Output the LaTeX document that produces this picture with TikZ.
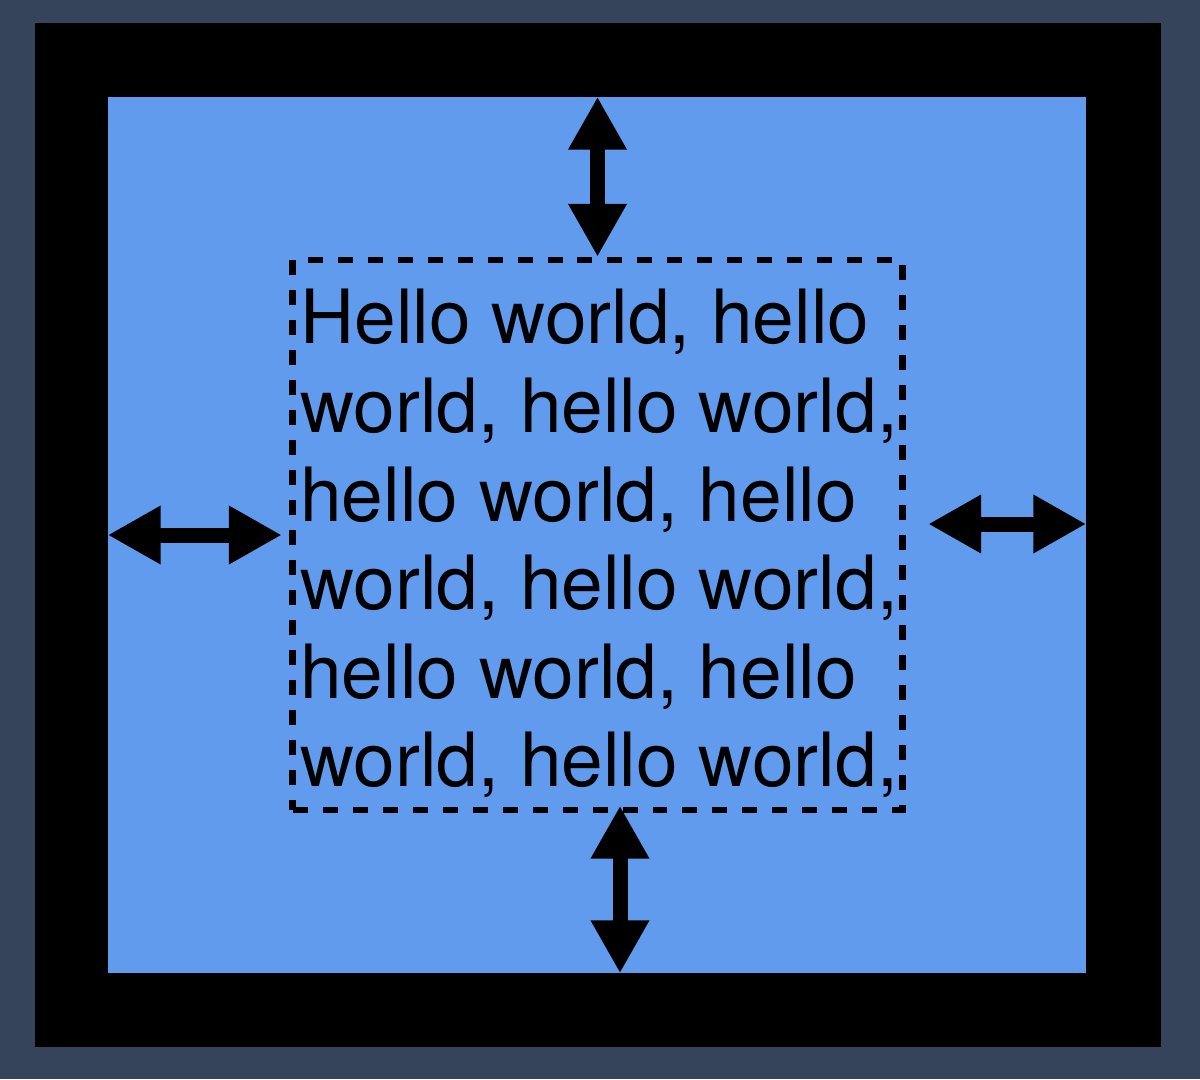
\documentclass[tikz,border=0pt]{standalone}
\usepackage{fontspec}
\setmainfont{TeX Gyre Heros}
\usetikzlibrary{positioning,arrows.meta}
\definecolor{myslate}{RGB}{54,68,91}
\definecolor{myblue}{RGB}{97,155,237}

\begin{document}
\begin{tikzpicture}[x=0.02cm,y=-0.02cm,
  gap/.style={line width=0.3cm,{Triangle[length=1.06cm,width=1.1cm]}-{Triangle[length=1.06cm,width=1.1cm]}}]
\fill[myslate] (0,0) rectangle (1200,1079);
\useasboundingbox (0,0) rectangle (1200,1079);

\node[fill=black,inner sep=0,minimum width=22.52cm,minimum height=20.48cm] (frame) at (598,535) {};
\node[fill=myblue,inner sep=0,minimum width=19.56cm,minimum height=17.52cm] (panel) at (597,535) {};

\node[draw,line width=0.13cm,dash pattern=on 0.3cm off 0.3cm,inner sep=0,
      minimum width=12.2cm,minimum height=11cm] (textbox) at (597.5,535) {};

\node[anchor=north west,inner sep=0,align=left,font=\fontsize{42.6pt}{50.4pt}\selectfont] (words) at (300,289)
  {Hello world, hello\\ world, hello world,\\ hello world, hello\\ world, hello world,\\ hello world, hello\\ world, hello world,};

% ends of the margin arrows
\coordinate (b1) at ([xshift=0.45cm,yshift=0.15cm]textbox.south);
\coordinate (r1) at ([xshift=0.45cm,yshift=0.22cm]textbox.east);

\draw[gap] (panel.north -| textbox.north) -- (textbox.north);
\draw[gap] (b1) -- (panel.south -| b1);
\draw[gap] (panel.west) -- ([xshift=-0.15cm]textbox.west);
\draw[gap] (r1) -- (panel.east |- r1);

\end{tikzpicture}
\end{document}
